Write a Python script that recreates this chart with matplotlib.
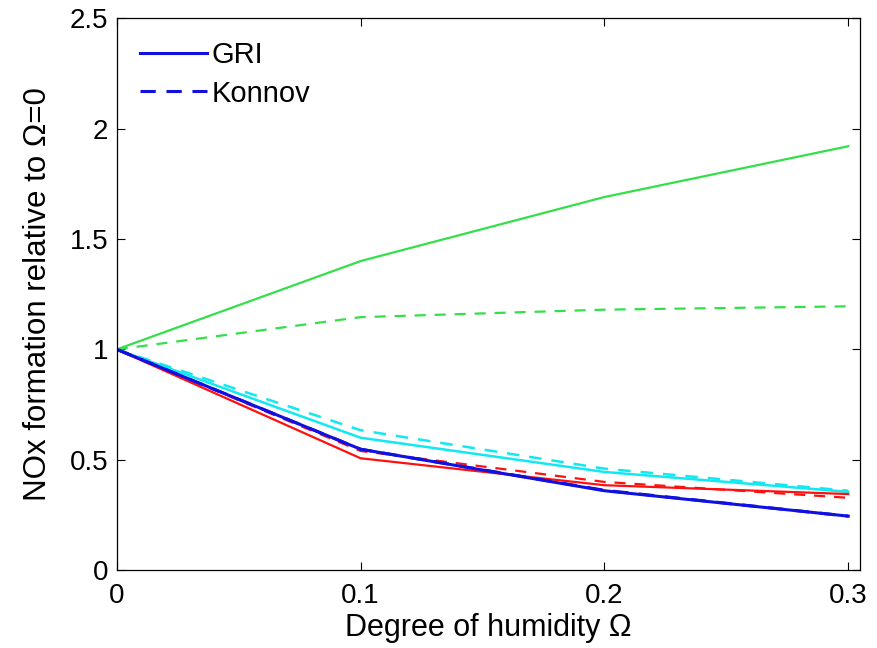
import matplotlib
matplotlib.use("Agg")
import matplotlib.pyplot as plt

plt.rcParams['font.family'] = ['Liberation Sans', 'DejaVu Sans']

# humidity levels
omega = [0, 0.1, 0.2, 0.3]

# NOx relative to omega=0, GRI (solid) and Konnov (dashed)
green_gri = [1.0, 1.40, 1.69, 1.92]
green_konnov = [1.0, 1.146, 1.18, 1.195]
cyan_gri = [1.0, 0.60, 0.445, 0.355]
cyan_konnov = [1.0, 0.634, 0.46, 0.36]
blue_gri = [1.0, 0.548, 0.36, 0.245]
blue_konnov = [1.0, 0.548, 0.362, 0.245]
red_gri = [1.0, 0.507, 0.385, 0.345]
red_konnov = [1.0, 0.54, 0.40, 0.328]

yticks = [0, 0.5, 1, 1.5, 2, 2.5]
ytick_labels = ['0', '0.5', '1', '1.5', '2', '2.5']
xticks = [0, 0.1, 0.2, 0.3]
xtick_labels = ['0', '0.1', '0.2', '0.3']

fig = plt.figure(figsize=(8.78, 6.48), dpi=100)
ax = fig.add_axes([0.133, 0.12, 0.847, 0.852])

ax.plot(omega, green_gri, color='#33e04a', lw=1.6)
ax.plot(omega, green_konnov, color='#33e04a', lw=1.6, ls=(0, (5, 4)))
ax.plot(omega, cyan_gri, color='#11e8f0', lw=1.8)
ax.plot(omega, cyan_konnov, color='#11e8f0', lw=1.8, ls=(0, (5, 4)))
ax.plot(omega, red_gri, color='#ff1010', lw=1.6)
ax.plot(omega, red_konnov, color='#ff1010', lw=1.6, ls=(0, (5, 4)))
l1, = ax.plot(omega, blue_gri, color='#1010e0', lw=2.2)
l2, = ax.plot(omega, blue_konnov, color='#1010e0', lw=2.2, ls=(0, (5, 3.5)))

ax.legend([l1, l2], ['GRI', 'Konnov'], loc='upper left', frameon=False,
          fontsize=21, handlelength=2.3, handletextpad=0.15,
          borderaxespad=0.3, borderpad=0.5, labelspacing=0.35)

ax.set_xlim(0, 0.305)
ax.set_ylim(0, 2.5)
ax.set_xticks(xticks)
ax.set_xticklabels(xtick_labels)
ax.set_yticks(yticks)
ax.set_yticklabels(ytick_labels)
ax.tick_params(direction='in', top=True, right=True, labelsize=20, length=6, width=0.8)
ax.tick_params(axis='x', pad=9)
ax.tick_params(axis='y', pad=6)
for s in ax.spines.values():
    s.set_linewidth(0.9)

ax.set_xlabel('Degree of humidity \u03a9', fontsize=22, labelpad=3)
ax.set_ylabel('NOx formation relative to \u03a9=0', fontsize=22.5, labelpad=12)

fig.savefig('out.png', dpi=100)
